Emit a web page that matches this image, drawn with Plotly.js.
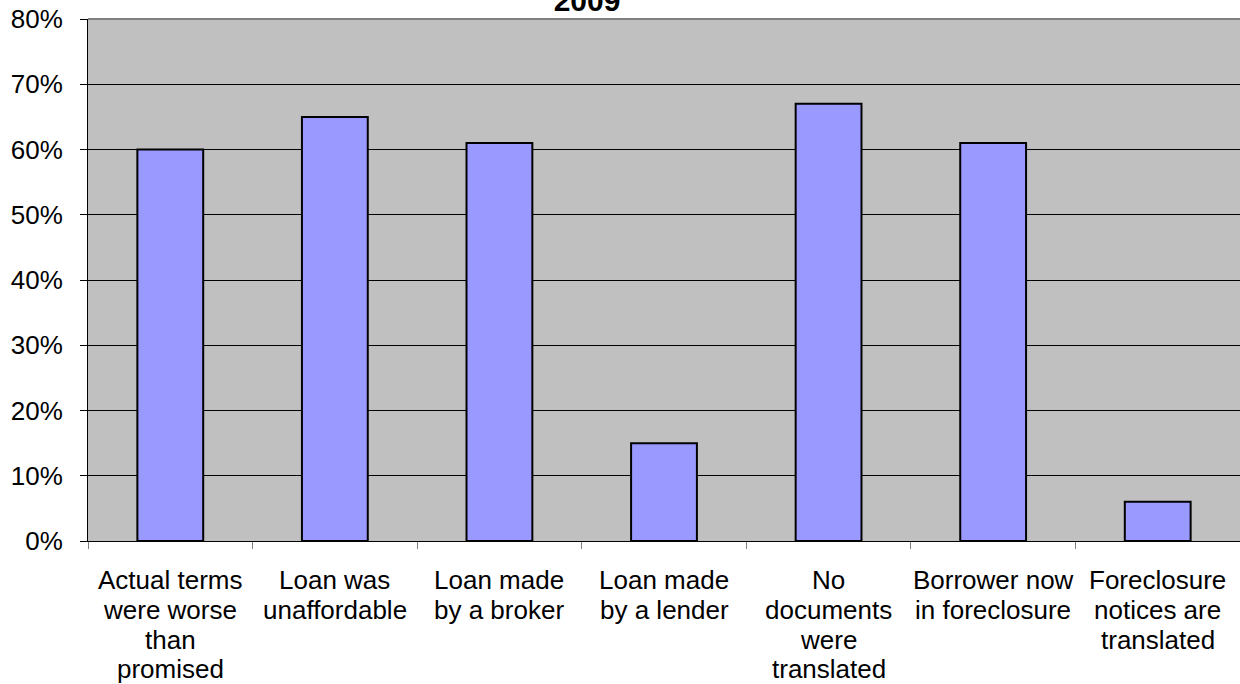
<!DOCTYPE html>
<html>
<head>
<meta charset="utf-8">
<script src="https://cdn.plot.ly/plotly-3.0.1.min.js"></script>
<style>html,body{margin:0;padding:0;background:#fff;}#chart{width:1240px;height:684px;}</style>
</head>
<body>
<div id="chart"></div>
<script>
const categories = ["Actual terms were worse than promised", "Loan was unaffordable", "Loan made by a broker", "Loan made by a lender", "No documents were translated", "Borrower now in foreclosure", "Foreclosure notices are translated"];
const labelLines = [
  ["Actual terms", "were worse", "than", "promised"],
  ["Loan was", "unaffordable"],
  ["Loan made", "by a broker"],
  ["Loan made", "by a lender"],
  ["No", "documents", "were", "translated"],
  ["Borrower now", "in foreclosure"],
  ["Foreclosure", "notices are", "translated"]
];
const values = [60, 65, 61, 15, 67, 61, 6];
const titleText = "2009";

const FONT = "Liberation Sans, Arial, sans-serif";

const annotations = [];
labelLines.forEach((lines, i) => {
  lines.forEach((t, k) => {
    annotations.push({
      x: categories[i], xref: 'x', y: 0, yref: 'paper',
      yanchor: 'top', xanchor: 'center',
      yshift: -(22 + 29.8 * k),
      text: t, showarrow: false,
      font: {family: FONT, size: 26, color: '#000'}
    });
  });
});

const trace = {
  type: 'bar',
  x: categories,
  y: values,
  marker: {color: '#9999FF', line: {color: '#000', width: 2}},
  hoverinfo: 'x+y'
};

const layout = {
  width: 1240, height: 684,
  margin: {l: 88, r: 0, t: 19, b: 143},
  paper_bgcolor: '#FFFFFF',
  plot_bgcolor: '#C0C0C0',
  bargap: 0.6,
  showlegend: false,
  title: {
    text: '<b>' + titleText + '</b>',
    font: {family: FONT, size: 30, color: '#000'},
    x: 0.4734, xanchor: 'center', xref: 'container',
    y: 1, yanchor: 'middle', yref: 'container'
  },
  xaxis: {
    type: 'category',
    range: [-0.5, 6.5],
    showticklabels: false,
    ticks: 'outside', tickson: 'boundaries', ticklen: 7, tickcolor: '#808080', tickwidth: 1,
    showline: true, linecolor: '#000', linewidth: 1,
    showgrid: false, zeroline: false
  },
  yaxis: {
    range: [0, 80],
    dtick: 10,
    ticksuffix: '%',
    tickfont: {family: FONT, size: 26, color: '#000'},
    ticks: 'outside', ticklen: 7, tickcolor: '#000', tickwidth: 1,
    ticklabelstandoff: 12,
    showline: true, linecolor: '#000', linewidth: 1,
    showgrid: true, gridcolor: '#000', gridwidth: 1,
    zeroline: false
  },
  shapes: [{
    type: 'line', xref: 'paper', yref: 'paper', x0: 0, x1: 1, y0: 1, y1: 1,
    line: {color: '#808080', width: 2}
  }],
  annotations: annotations
};

Plotly.newPlot('chart', [trace], layout, {displayModeBar: false, staticPlot: true});
</script>
</body>
</html>
